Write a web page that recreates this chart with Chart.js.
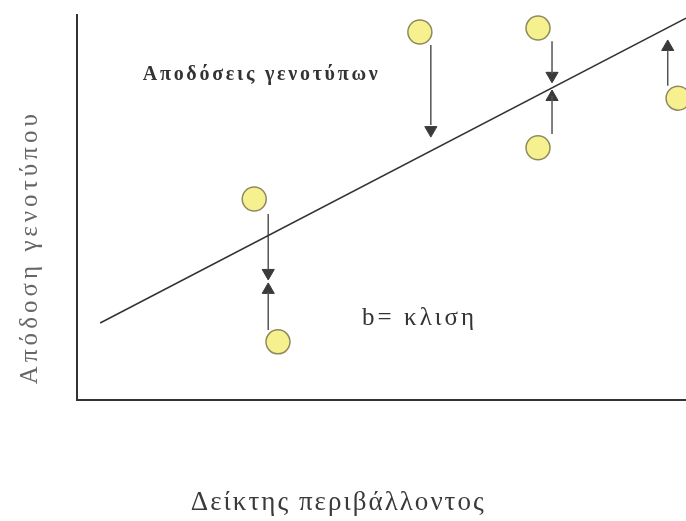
<!DOCTYPE html>
<html>
<head>
<meta charset="utf-8">
<script src="https://cdn.jsdelivr.net/npm/chart.js@4"></script>
<style>
  html, body { margin: 0; padding: 0; background: #fff; overflow: hidden; }
  #wrap { width: 686px; height: 521px; }
  canvas { display: block; }
</style>
</head>
<body>
<div id="wrap"><canvas id="chart"></canvas></div>
<script>
// regression line (environment index -> genotype yield)
const lineX = [3.8, 100];
const lineY = [20, 99.2];

// observed genotype yields
const obsX = [29.1, 33.0, 56.3, 75.7, 75.7, 98.7];
const obsY = [52.2, 15.1, 95.6, 96.6, 65.5, 78.4];

// arrow shafts: from the point towards the line
const shaftX = [31.4, 31.4, 58.1, 78.0, 78.0, 97.0];
const shaftFrom = [48.3, 18.2, 92.2, 93.2, 69.1, 81.6];
const shaftTo = [33.8, 28.1, 71.4, 84.7, 79.0, 90.9];

// arrow heads
const downHeadX = [31.4, 58.1, 78.0];
const downHeadY = [33.0, 70.1, 84.2];
const upHeadX = [31.4, 78.0, 97.0];
const upHeadY = [28.6, 78.7, 91.7];

const xTitle = 'Δείκτης περιβάλλοντος';
const yTitle = 'Απόδοση γενοτύπου';
const noteTop = 'Αποδόσεις γενοτύπων';
const noteSlope = 'b= κλιση';

function pts(xs, ys) {
    return xs.map((x, i) => ({ x: x, y: ys[i] }));
}

// shaft segments, split by gaps
let shaftData = [];
for (let i = 0; i < shaftX.length; i++) {
    shaftData.push({ x: shaftX[i], y: shaftFrom[i] });
    shaftData.push({ x: shaftX[i], y: shaftTo[i] });
    shaftData.push({ x: shaftX[i], y: null });
}

// draw text at a given width (scanned text is loosely spaced)
function drawText(ctx, text, x, y, font, color, width, align) {
    ctx.font = font;
    ctx.fillStyle = color;
    ctx.letterSpacing = '0px';
    let w = ctx.measureText(text).width;
    let sp = Math.max(0, (width - w) / (text.length - 1));
    ctx.letterSpacing = sp.toFixed(2) + 'px';
    ctx.textAlign = align || 'left';
    ctx.textBaseline = 'alphabetic';
    ctx.fillText(text, x, y);
}

const labelsPlugin = {
    id: 'labels',
    afterDraw(chart) {
        const ctx = chart.ctx;
        const xs = chart.scales.x;
        const ys = chart.scales.y;
        const area = chart.chartArea;
        ctx.save();

        drawText(ctx, noteTop, xs.getPixelForValue(10.8), ys.getPixelForValue(83.1),
            'bold 20px "Liberation Serif"', '#333', 235);
        drawText(ctx, noteSlope, xs.getPixelForValue(46.8), ys.getPixelForValue(19.6),
            '25px "Liberation Serif"', '#333', 112);

        // x axis title
        drawText(ctx, xTitle, xs.getPixelForValue(42.9), area.bottom + 110,
            '27px "Liberation Serif"', '#3a3a3a', 293, 'center');

        // y axis title, rotated
        ctx.save();
        ctx.translate(area.left - 40, ys.getPixelForValue(39.7));
        ctx.rotate(-Math.PI / 2);
        drawText(ctx, yTitle, 0, 0, '25px "Liberation Serif"', '#666', 270, 'center');
        ctx.restore();

        ctx.restore();
    }
};

new Chart(document.getElementById('chart'), {
    type: 'scatter',
    data: {
        datasets: [
            {
                data: pts(lineX, lineY),
                showLine: true,
                borderColor: '#333',
                borderWidth: 1.5,
                pointRadius: 0,
                clip: false
            },
            {
                data: shaftData,
                showLine: true,
                spanGaps: false,
                borderColor: '#555',
                borderWidth: 1.5,
                pointRadius: 0,
                clip: false
            },
            {
                data: pts(downHeadX, downHeadY),
                pointStyle: 'triangle',
                rotation: 180,
                pointRadius: 7,
                backgroundColor: '#3a3a3a',
                borderColor: '#3a3a3a',
                borderWidth: 1,
                clip: false
            },
            {
                data: pts(upHeadX, upHeadY),
                pointStyle: 'triangle',
                pointRadius: 7,
                backgroundColor: '#3a3a3a',
                borderColor: '#3a3a3a',
                borderWidth: 1,
                clip: false
            },
            {
                data: pts(obsX, obsY),
                pointRadius: 12,
                backgroundColor: '#f7f08f',
                borderColor: '#8d8a5e',
                borderWidth: 1.5,
                clip: false
            }
        ]
    },
    options: {
        responsive: true,
        maintainAspectRatio: false,
        animation: false,
        layout: {
            autoPadding: false,
            padding: { left: 77, top: 15, right: 0, bottom: 121 }
        },
        plugins: {
            legend: { display: false },
            tooltip: { enabled: false }
        },
        scales: {
            x: {
                type: 'linear',
                min: 0,
                max: 100,
                grid: { display: false, drawTicks: false },
                ticks: { display: false },
                border: { display: true, color: '#333', width: 2 }
            },
            y: {
                type: 'linear',
                min: 0,
                max: 100,
                grid: { display: false, drawTicks: false },
                ticks: { display: false },
                border: { display: true, color: '#333', width: 2 }
            }
        }
    },
    plugins: [labelsPlugin]
});
</script>
</body>
</html>
